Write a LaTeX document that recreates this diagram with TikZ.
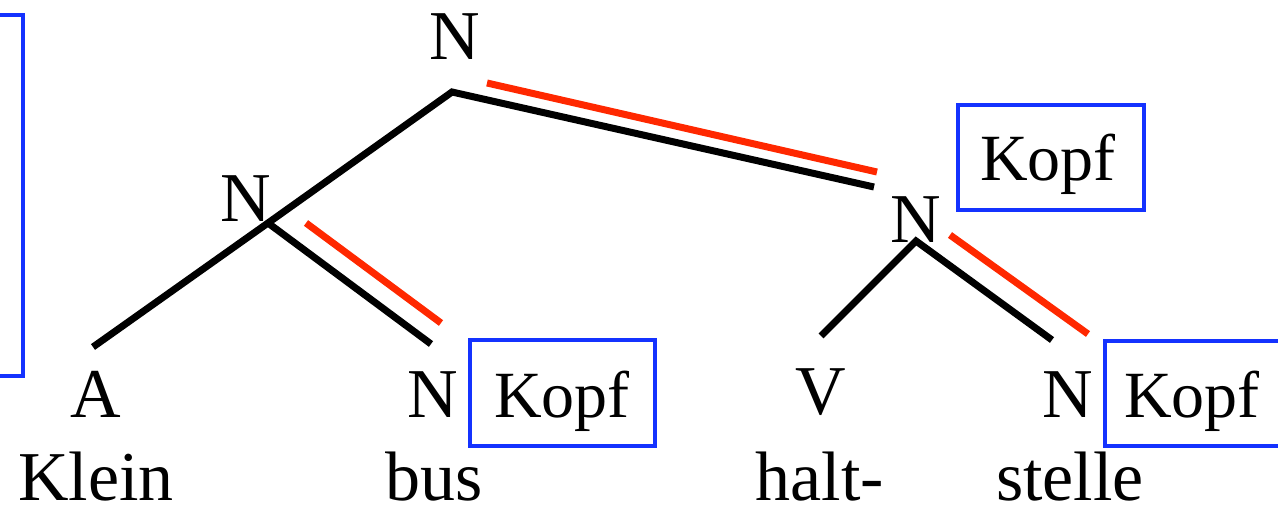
\documentclass[tikz,border=0pt]{standalone}
\usepackage{fontspec}
\setmainfont{Liberation Serif}
\definecolor{kblue}{RGB}{20,50,255}
\definecolor{kred}{RGB}{255,40,0}
\begin{document}
\begin{tikzpicture}[x=1pt,y=-1pt,
  lbl/.style={anchor=base,inner sep=0pt,text depth=0pt,font=\fontsize{70}{84}\selectfont},
  kopf/.style={anchor=base,inner sep=0pt,font=\fontsize{66}{80}\selectfont},
  branch/.style={line width=7pt,black},
  headline/.style={line width=7pt,kred},
  kbox/.style={line width=4.5pt,kblue}]
\useasboundingbox (0,0) rectangle (1278,505);
\clip (0,0) rectangle (1278,505);
% vertices
\coordinate (vTop) at (452,92);
\coordinate (vL) at (268,223);
\coordinate (vR) at (916,241);
\coordinate (eA) at (93,347);
\coordinate (eBus) at (431,344);
\coordinate (eV) at (821,336);
\coordinate (eSt) at (1052,340);
\coordinate (eRT) at (874,187);
\coordinate (rL1) at (306,223);
\coordinate (rL2) at (441,323);
\coordinate (rT1) at (487,83);
\coordinate (rT2) at (877,172);
\coordinate (rR1) at (950,235);
\coordinate (rR2) at (1088,334);
% labels
\node[lbl] (nTop) at (455,60) {N};
\node[lbl] (nL) at (246,222) {N};
\node[lbl] (nR) at (916,243) {N};
\node[lbl] (nA) at (96,417) {A};
\node[lbl] (nBus) at (433,417) {N};
\node[lbl] (nV) at (821,414) {V};
\node[lbl] (nSt) at (1068,417) {N};
\node[lbl] (wKlein) at (96,500) {Klein};
\node[lbl] (wBus) at (434,500) {bus};
\node[lbl] (wHalt) at (820,500) {halt-};
\node[lbl] (wStelle) at (1070,500) {stelle};
% Kopf boxes
\node[kopf] (k1) at (1048,181) {Kopf};
\draw[kbox] (958,105) rectangle (1144,210);
\node[kopf] (k2) at (562,417) {Kopf};
\draw[kbox] (470,340) rectangle (655,446);
\node[kopf] (k3) at (1192,417) {Kopf};
\draw[kbox] (1300,341) -- (1105,341) -- (1105,446) -- (1300,446);
\draw[kbox] (-10,15) -- (23,15) -- (23,376) -- (-10,376);
% branches
\draw[branch] (eA) -- (vL) -- (vTop) -- (eRT);
\draw[branch] (vL) -- (eBus);
\draw[branch] (eV) -- (vR) -- (eSt);
% head lines
\draw[headline] (rL1) -- (rL2);
\draw[headline] (rT1) -- (rT2);
\draw[headline] (rR1) -- (rR2);
\end{tikzpicture}
\end{document}
